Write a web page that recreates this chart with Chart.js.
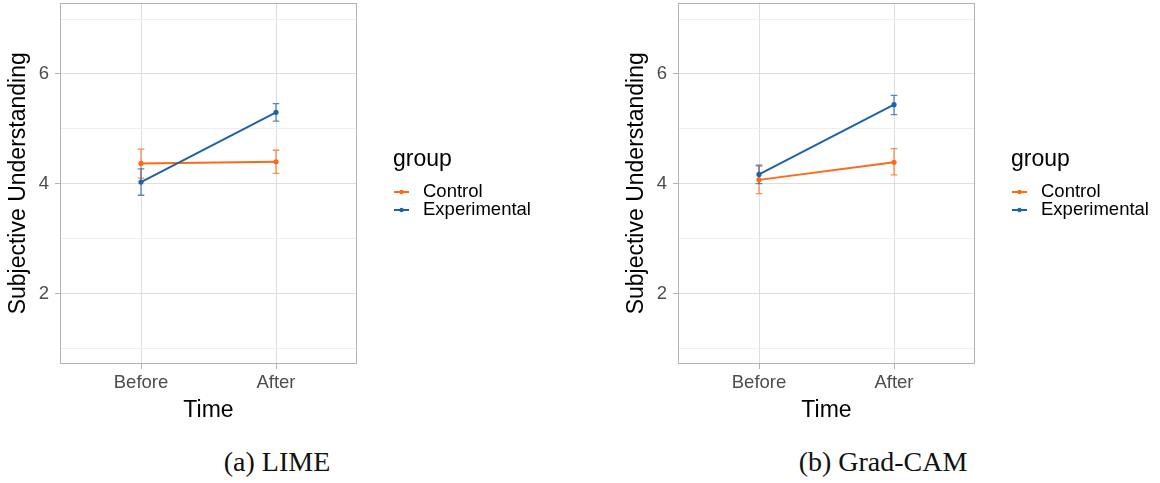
<!DOCTYPE html>
<html><head><meta charset="utf-8">
<script src="https://cdn.jsdelivr.net/npm/chart.js@4.4.1/dist/chart.umd.min.js"></script>
<style>
html,body{margin:0;padding:0;background:#fff;width:1160px;height:483px;overflow:hidden;}
.panel{position:absolute;top:0;width:542px;height:430px;}
.cap{position:absolute;top:446px;font-family:"Liberation Serif",serif;font-size:28px;color:#111;white-space:nowrap;transform:translateX(-50%);}
</style></head><body>
<div class="panel" style="left:0"><canvas id="c1" width="542" height="430"></canvas></div>
<div class="panel" style="left:618px"><canvas id="c2" width="542" height="430"></canvas></div>
<div class="cap" style="left:277px">(a) LIME</div>
<div class="cap" style="left:883px">(b) Grad-CAM</div>
<script>
const timeLabels = ['Before', 'After'];
const groupNames = ['Control', 'Experimental'];
const groupColors = ['#FC6A15', '#1F63A6'];
const yMajorTicks = [2, 4, 6];
const yMinorTicks = [1, 3, 5, 7];
const yRange = [0.715, 7.30];

const limeControlMean = [4.37, 4.40];
const limeControlLow = [4.10, 4.19];
const limeControlHigh = [4.63, 4.61];
const limeExperimentalMean = [4.03, 5.30];
const limeExperimentalLow = [3.79, 5.14];
const limeExperimentalHigh = [4.27, 5.46];

const gradControlMean = [4.07, 4.39];
const gradControlLow = [3.82, 4.16];
const gradControlHigh = [4.32, 4.64];
const gradExperimentalMean = [4.17, 5.44];
const gradExperimentalLow = [4.00, 5.26];
const gradExperimentalHigh = [4.34, 5.61];

const SANS = '"Liberation Sans", Arial, sans-serif';

function hexA(hex, a) {
  const n = parseInt(hex.slice(1), 16);
  return `rgba(${(n >> 16) & 255},${(n >> 8) & 255},${n & 255},${a})`;
}

const errorBarPlugin = {
  id: 'errorBars',
  beforeDatasetsDraw(chart) {
    const ctx = chart.ctx, xs = chart.scales.x, ys = chart.scales.y, ca = chart.chartArea;
    ctx.save();
    ctx.strokeStyle = '#b3b3b3';
    ctx.lineWidth = 1;
    ctx.strokeRect(Math.round(ca.left) + 0.5, Math.round(ca.top) + 0.5, Math.round(ca.right - ca.left) - 1, Math.round(ca.bottom - ca.top) - 1);
    chart.data.datasets.forEach((ds) => {
      ctx.strokeStyle = hexA(ds.borderColor, 0.75);
      ctx.lineWidth = 1.3;
      ds.errLow.forEach((lo, j) => {
        const hi = ds.errHigh[j];
        const x = xs.getPixelForValue(j + 1);
        const yl = ys.getPixelForValue(lo), yh = ys.getPixelForValue(hi);
        ctx.beginPath();
        ctx.moveTo(x, yl); ctx.lineTo(x, yh);
        ctx.moveTo(x - 3.3, yl); ctx.lineTo(x + 3.3, yl);
        ctx.moveTo(x - 3.3, yh); ctx.lineTo(x + 3.3, yh);
        ctx.stroke();
      });
    });
    ctx.restore();
  }
};

const legendPlugin = {
  id: 'ggLegend',
  afterDraw(chart) {
    const ctx = chart.ctx, ca = chart.chartArea;
    const x0 = ca.right + 36;
    ctx.save();
    ctx.fillStyle = '#000';
    ctx.textBaseline = 'middle';
    ctx.textAlign = 'left';
    ctx.font = `23px ${SANS}`;
    ctx.fillText('group', x0, 160);
    ctx.font = `18.5px ${SANS}`;
    chart.data.datasets.forEach((ds, i) => {
      const y = 192 + i * 18;
      ctx.strokeStyle = ds.borderColor;
      ctx.lineWidth = 2;
      ctx.beginPath(); ctx.moveTo(x0 + 1, y); ctx.lineTo(x0 + 16, y); ctx.stroke();
      ctx.fillStyle = ds.borderColor;
      ctx.beginPath(); ctx.arc(x0 + 8.5, y, 2.2, 0, Math.PI * 2); ctx.fill();
      ctx.fillStyle = '#000';
      ctx.fillText(ds.label, x0 + 30, y);
    });
    ctx.restore();
  }
};

function makeChart(id, series) {
  const datasets = groupNames.map((g, i) => ({
    label: g,
    data: series[i].mean.map((v, j) => ({ x: j + 1, y: v })),
    errLow: series[i].low,
    errHigh: series[i].high,
    borderColor: groupColors[i],
    backgroundColor: groupColors[i],
    borderWidth: 2,
    pointRadius: 2.6,
    pointHoverRadius: 2.6,
    pointBorderWidth: 0,
    tension: 0,
    order: i === 1 ? 0 : 1
  }));
  const isMajor = (ctx) => ctx && ctx.tick && yMajorTicks.includes(ctx.tick.value);
  return new Chart(document.getElementById(id), {
    type: 'line',
    data: { datasets },
    plugins: [errorBarPlugin, legendPlugin],
    options: {
      responsive: false,
      animation: false,
      devicePixelRatio: 1,
      events: [],
      layout: { padding: { top: 2, right: 185, left: 0, bottom: 0 } },
      plugins: { legend: { display: false }, tooltip: { enabled: false } },
      scales: {
        x: {
          type: 'linear', min: 0.4, max: 2.6,
          afterBuildTicks: (s) => { s.ticks = timeLabels.map((_, i) => ({ value: i + 1 })); },
          afterFit: (s) => { s.height = 66; s.paddingLeft = 0; s.paddingRight = 0; },
          ticks: {
            callback: (v) => timeLabels[Math.round(v) - 1],
            font: { family: SANS, size: 18.5 }, color: '#4d4d4d',
            padding: 3, maxRotation: 0, autoSkip: false
          },
          grid: { color: '#dedede', lineWidth: 1, tickLength: 5, tickColor: '#b3b3b3' },
          border: { display: false },
          title: { display: true, text: 'Time', color: '#000', font: { family: SANS, size: 23 }, padding: { top: 0, bottom: 6 } }
        },
        y: {
          type: 'linear', min: yRange[0], max: yRange[1],
          afterBuildTicks: (s) => { s.ticks = [...yMinorTicks, ...yMajorTicks].sort((a, b) => a - b).map(v => ({ value: v })); },
          afterFit: (s) => { s.width = 60; s.paddingTop = 0; s.paddingBottom = 0; },
          ticks: {
            callback: (v) => yMajorTicks.includes(v) ? String(v) : '',
            font: { family: SANS, size: 18.5 }, color: '#4d4d4d',
            padding: 6, autoSkip: false
          },
          grid: {
            color: (c) => isMajor(c) ? '#dedede' : '#efefef',
            lineWidth: 1, tickLength: 5,
            tickColor: (c) => isMajor(c) ? '#b3b3b3' : 'rgba(0,0,0,0)'
          },
          border: { display: false },
          title: { display: true, text: 'Subjective Understanding', color: '#000', font: { family: SANS, size: 23 }, padding: { top: 5, bottom: 0 } }
        }
      }
    }
  });
}

makeChart('c1', [
  { mean: limeControlMean, low: limeControlLow, high: limeControlHigh },
  { mean: limeExperimentalMean, low: limeExperimentalLow, high: limeExperimentalHigh }
]);
makeChart('c2', [
  { mean: gradControlMean, low: gradControlLow, high: gradControlHigh },
  { mean: gradExperimentalMean, low: gradExperimentalLow, high: gradExperimentalHigh }
]);
</script>
</body></html>
